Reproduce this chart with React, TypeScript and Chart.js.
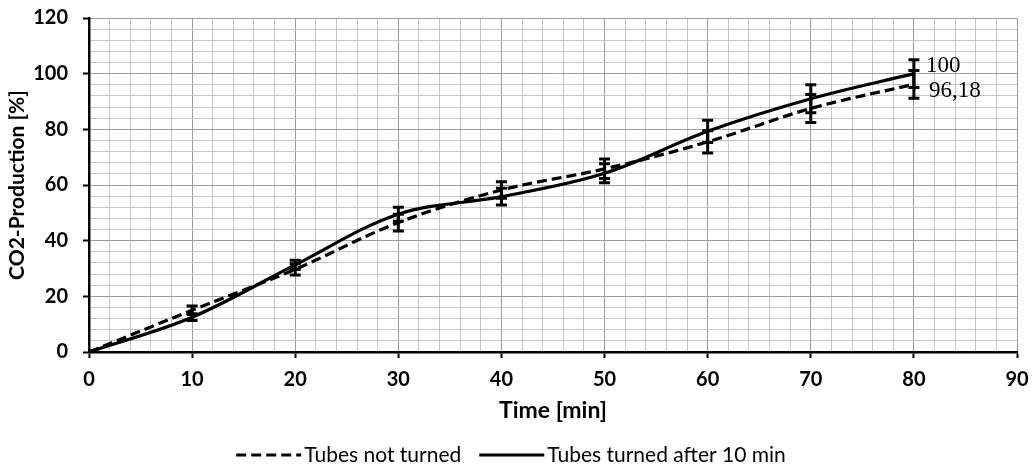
import React, { useEffect, useRef } from 'react';
import { Chart, registerables } from 'chart.js';

Chart.register(...registerables);

const times = [0, 10, 20, 30, 40, 50, 60, 70, 80];
const notTurned = [0, 15, 29.7, 46.5, 58.2, 65.8, 75.5, 87.5, 96.18];
const notTurnedErr = [0, 1.5, 2, 3, 3, 3.5, 4, 5, 5];
const turned = [0, 12.5, 31.3, 49.5, 55.8, 64.2, 79.3, 91, 100];
const turnedErr = [0, 1.2, 1.7, 2.5, 3, 3.4, 4, 5, 5];
const seriesNames = ['Tubes not turned', 'Tubes turned after 10 min'];
const endLabels = ['96,18', '100'];
const xTitle = 'Time [min]';
const yTitle = 'CO2-Production [%]';
const xRange = [0, 90];
const yRange = [0, 120];

const FONT = 'Lato';

const errorBarPlugin = {
  id: 'errorBars',
  afterDatasetsDraw(chart: any) {
    const ctx = chart.ctx;
    const xs = chart.scales.x;
    const ys = chart.scales.y;
    const errs = [notTurnedErr, turnedErr];
    const vals = [notTurned, turned];
    ctx.save();
    ctx.strokeStyle = '#000';
    ctx.lineWidth = 3;
    ctx.setLineDash([]);
    for (let d = 0; d < 2; d++) {
      for (let i = 0; i < times.length; i++) {
        const e = errs[d][i];
        if (!e) continue;
        const px = xs.getPixelForValue(times[i]);
        const top = ys.getPixelForValue(vals[d][i] + e);
        const bot = ys.getPixelForValue(vals[d][i] - e);
        ctx.beginPath();
        ctx.moveTo(px, top);
        ctx.lineTo(px, bot);
        ctx.moveTo(px - 5.5, top);
        ctx.lineTo(px + 5.5, top);
        ctx.moveTo(px - 5.5, bot);
        ctx.lineTo(px + 5.5, bot);
        ctx.stroke();
      }
    }
    // end value labels
    ctx.fillStyle = '#000';
    ctx.font = '23px "Liberation Serif"';
    ctx.textAlign = 'left';
    ctx.textBaseline = 'middle';
    const last = times.length - 1;
    const lx = xs.getPixelForValue(times[last]);
    ctx.fillText(endLabels[0], lx + 15, ys.getPixelForValue(notTurned[last]) + 7);
    ctx.fillText(endLabels[1], lx + 12, ys.getPixelForValue(turned[last]) - 8);
    ctx.restore();
  },
  afterDraw(chart: any) {
    const ctx = chart.ctx;
    ctx.save();
    ctx.font = `21px ${FONT}`;
    ctx.textBaseline = 'middle';
    ctx.textAlign = 'left';
    const sample = 65;
    const gap = 3;
    const itemGap = 18;
    const widths = seriesNames.map((n) => ctx.measureText(n).width);
    const total = widths.reduce((a, w) => a + sample + gap + w, 0) + itemGap;
    let x = chart.width / 2 - total / 2 - 5;
    const y = 455;
    chart.data.datasets.forEach((ds: any, i: number) => {
      ctx.strokeStyle = ds.borderColor;
      ctx.lineWidth = ds.borderWidth;
      ctx.setLineDash(ds.borderDash || []);
      ctx.beginPath();
      ctx.moveTo(x, y);
      ctx.lineTo(x + sample, y);
      ctx.stroke();
      ctx.setLineDash([]);
      ctx.fillStyle = '#000';
      ctx.fillText(seriesNames[i], x + sample + gap, y);
      x += sample + gap + widths[i] + itemGap;
    });
    ctx.restore();
  },
};

export default function App() {
  const ref = useRef<HTMLCanvasElement | null>(null);
  useEffect(() => {
    if (!ref.current) return;
    const chart = new Chart(ref.current, {
      type: 'line',
      data: {
        datasets: [
          {
            label: seriesNames[0],
            data: times.map((t, i) => ({ x: t, y: notTurned[i] })),
            borderColor: '#000',
            borderWidth: 3.2,
            borderDash: [10, 5],
            pointRadius: 0,
            tension: 0.35,
            fill: false,
          },
          {
            label: seriesNames[1],
            data: times.map((t, i) => ({ x: t, y: turned[i] })),
            borderColor: '#000',
            borderWidth: 3.2,
            pointRadius: 0,
            tension: 0.35,
            fill: false,
          },
        ],
      },
      options: {
        animation: false,
        responsive: false,
        layout: { padding: { left: 0, right: 15, top: 18, bottom: 46 } },
        plugins: { legend: { display: false }, tooltip: { enabled: false } },
        scales: {
          x: {
            type: 'linear',
            min: xRange[0],
            max: xRange[1],
            afterFit: (s: any) => {
              s.height = 75;
              s.paddingLeft = 0;
              s.paddingRight = 0;
            },
            ticks: {
              stepSize: 2,
              autoSkip: false,
              maxRotation: 0,
              padding: 10,
              color: '#000',
              font: { family: FONT, size: 20, weight: 'bold' },
              callback: (v: any) => (v % 10 === 0 ? String(v) : ''),
            },
            grid: {
              color: (c: any) => (c.tick && c.tick.value % 10 === 0 ? '#9c9c9c' : '#c6c6c6'),
              lineWidth: 1,
              tickLength: 6,
              tickWidth: 2,
              tickColor: (c: any) => (c.tick && c.tick.value % 10 === 0 ? '#000' : 'rgba(0,0,0,0)'),
            },
            border: { display: true, color: '#000', width: 2.5 },
            title: {
              display: true,
              text: xTitle,
              color: '#000',
              font: { family: FONT, size: 23, weight: 'bold' },
              padding: { top: 0, bottom: 3 },
            },
          },
          y: {
            min: yRange[0],
            max: yRange[1],
            afterFit: (s: any) => {
              s.width = 89;
              s.paddingTop = 0;
              s.paddingBottom = 0;
            },
            ticks: {
              stepSize: 4,
              autoSkip: false,
              padding: 15,
              color: '#000',
              font: { family: FONT, size: 20, weight: 'bold' },
              callback: (v: any) => (v % 20 === 0 ? String(v) : ''),
            },
            grid: {
              color: (c: any) => (c.tick && c.tick.value % 20 === 0 ? '#9c9c9c' : '#c6c6c6'),
              lineWidth: 1,
              tickLength: 6,
              tickWidth: 2,
              tickColor: (c: any) => (c.tick && c.tick.value % 20 === 0 ? '#000' : 'rgba(0,0,0,0)'),
            },
            border: { display: true, color: '#000', width: 2.5 },
            title: {
              display: true,
              text: yTitle,
              color: '#000',
              font: { family: FONT, size: 21, weight: 'bold' },
              padding: { top: 5, bottom: 0 },
            },
          },
        },
      },
      plugins: [errorBarPlugin],
    } as any);
    return () => chart.destroy();
  }, []);
  return (
    <div style={{ position: 'fixed', left: 0, top: 0, width: 1032, height: 473, background: '#fff' }}>
      <canvas ref={ref} width={1032} height={473} style={{ display: 'block' }} />
    </div>
  );
}
